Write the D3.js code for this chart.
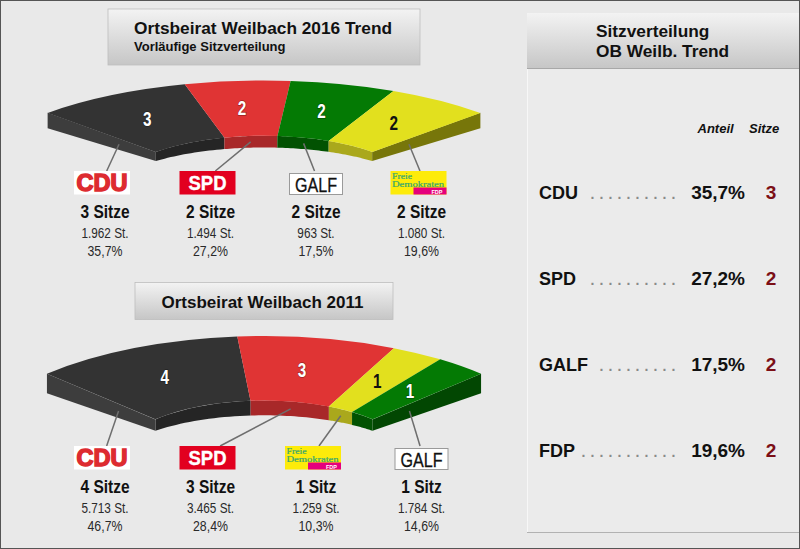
<!DOCTYPE html>
<html>
<head>
<meta charset="utf-8">
<script src="https://cdn.jsdelivr.net/npm/d3@7"></script>
<style>
  html, body { margin: 0; padding: 0; background: #e9e9e9; }
  svg { display: block; font-family: "Liberation Sans", Arial, sans-serif; }
</style>
</head>
<body>
<svg id="chart" width="800" height="549"></svg>
<script>
// Trend 2016
const partiesTrend = ["CDU", "SPD", "GALF", "FDP"];
const seatsTrend = [3, 2, 2, 2];
const votesTrend = [1962, 1494, 963, 1080];
const sharesTrend = [35.7, 27.2, 17.5, 19.6];

// Ergebnis 2011
const parties2011 = ["CDU", "SPD", "FDP", "GALF"];
const seats2011 = [4, 3, 1, 1];
const votes2011 = [5713, 3465, 1259, 1784];
const shares2011 = [46.7, 28.4, 10.3, 14.6];

// Tabelle rechts
const tableDots = [10, 10, 9, 11];

const partyColors = {
  CDU: { top: "#333333", wall: "#252525", cap: "#3d3d3d", label: "#fff" },
  SPD: { top: "#e03434", wall: "#a82829", cap: "#a82829", label: "#fff" },
  GALF: { top: "#047a04", wall: "#025202", cap: "#024702", label: "#fff" },
  FDP: { top: "#e2e01e", wall: "#aaa81c", cap: "#77760a", label: "#111" },
};

const deDE = d3.formatLocale({ decimal: ",", thousands: ".", grouping: [3], currency: ["", "€"] });
const fmtVotes = deDE.format(",");
const fmtShare = (v) => deDE.format(".1f")(v) + "%";

const svg = d3.select("#chart");
const defs = svg.append("defs");

const headGrad = defs.append("linearGradient")
  .attr("id", "head").attr("x1", 0).attr("y1", 0).attr("x2", 0).attr("y2", 1);
headGrad.append("stop").attr("offset", 0).attr("stop-color", "#f3f3f3");
headGrad.append("stop").attr("offset", 1).attr("stop-color", "#c6c6c6");

// Rahmen
svg.append("rect").attr("x", 0.5).attr("y", 0.5).attr("width", 799).attr("height", 548)
  .attr("fill", "#e9e9e9").attr("stroke", "#555");

function titleBox(x, y, w, h) {
  svg.append("rect").attr("x", x).attr("y", y).attr("width", w).attr("height", h)
    .attr("fill", "url(#head)").attr("stroke", "#bdbdbd").attr("stroke-width", 0.8);
}

function label(x, y, str, size, opts = {}) {
  return svg.append("text")
    .attr("x", x).attr("y", y)
    .attr("font-size", size)
    .attr("font-weight", opts.weight || "bold")
    .attr("font-style", opts.style || "normal")
    .attr("text-anchor", opts.anchor || "start")
    .attr("fill", opts.fill || "#111")
    .text(str);
}

// Schrift schmaler ziehen, wie im Original
function narrow(sel, k) {
  sel.each(function() {
    this.setAttribute("textLength", this.getComputedTextLength() * k);
    this.setAttribute("lengthAdjust", "spacingAndGlyphs");
  });
  return sel;
}

// Logos
function drawLogo(g, party, cx, top) {
  if (party === "CDU") {
    g.append("rect").attr("x", cx - 28).attr("y", top).attr("width", 56).attr("height", 23.5).attr("fill", "#fff");
    g.append("text").attr("x", cx).attr("y", top + 20).attr("text-anchor", "middle")
      .attr("font-size", 24).attr("font-weight", "bold").attr("fill", "#dd2b30")
      .attr("stroke", "#dd2b30").attr("stroke-width", 1.5)
      .attr("textLength", 51).attr("lengthAdjust", "spacingAndGlyphs").text("CDU");
  } else if (party === "SPD") {
    g.append("rect").attr("x", cx - 28).attr("y", top).attr("width", 56).attr("height", 23.5).attr("fill", "#e2001f");
    g.append("text").attr("x", cx).attr("y", top + 19).attr("text-anchor", "middle")
      .attr("font-size", 21).attr("font-weight", "bold").attr("fill", "#fff")
      .attr("stroke", "#fff").attr("stroke-width", 0.4)
      .attr("textLength", 38).attr("lengthAdjust", "spacingAndGlyphs").text("SPD");
  } else if (party === "GALF") {
    g.append("rect").attr("x", cx - 26.5).attr("y", top + 2.5).attr("width", 53).attr("height", 21)
      .attr("fill", "#fff").attr("stroke", "#9a9a9a");
    g.append("text").attr("x", cx).attr("y", top + 20.5).attr("text-anchor", "middle")
      .attr("font-size", 20).attr("fill", "#111").attr("stroke", "#111").attr("stroke-width", 0.3)
      .attr("textLength", 42).attr("lengthAdjust", "spacingAndGlyphs").text("GALF");
  } else {
    g.append("rect").attr("x", cx - 28).attr("y", top).attr("width", 56).attr("height", 23.5).attr("fill", "#fdeb0a");
    g.append("rect").attr("x", cx - 5).attr("y", top + 16.5).attr("width", 33).attr("height", 7).attr("fill", "#e5007d");
    g.append("text").attr("x", cx - 26.5).attr("y", top + 7.5)
      .attr("font-family", "Liberation Serif, serif").attr("font-size", 7.4).attr("fill", "#3aa86f")
      .attr("stroke", "#3aa86f").attr("stroke-width", 0.2)
      .attr("textLength", 20).attr("lengthAdjust", "spacingAndGlyphs").text("Freie");
    g.append("text").attr("x", cx - 26.5).attr("y", top + 15.8)
      .attr("font-family", "Liberation Serif, serif").attr("font-size", 7.4).attr("fill", "#3aa86f")
      .attr("stroke", "#3aa86f").attr("stroke-width", 0.2)
      .attr("textLength", 52).attr("lengthAdjust", "spacingAndGlyphs").text("Demokraten");
    g.append("text").attr("x", cx + 24).attr("y", top + 22.5).attr("text-anchor", "end")
      .attr("font-size", 5.5).attr("font-weight", "bold").attr("fill", "#fff").text("FDP");
  }
}

const logoShift = { CDU: -3, SPD: -3, GALF: 0, FDP: -3 };

// Halbring mit Perspektive: oben = Deckfläche, unten = Standfläche
function drawRing(parties, seats, votes, shares, geo) {
  const g = svg.append("g");
  const column = d3.scalePoint().domain(d3.range(parties.length)).range([105, 421.5]);

  const pie = d3.pie().sort(null).startAngle(-Math.PI / 4).endAngle(Math.PI / 4);
  const arcs = pie(seats);
  const arc = d3.arc().innerRadius(0.5).outerRadius(1);

  // Ellipsen-Skalen fuer Decke und Boden
  const xScale = d3.scaleLinear().domain([-1, 1]).range([geo.cx - geo.rx, geo.cx + geo.rx]);
  const topY = d3.scaleLinear().domain([-1, 1]).range([geo.cyTop - geo.ryTop, geo.cyTop + geo.ryTop]);
  const botY = d3.scaleLinear().domain([-1, 1]).range([geo.cyBot - geo.ryBot, geo.cyBot + geo.ryBot]);

  const onTop = (a, r) => [xScale(r * Math.sin(a)), topY(-r * Math.cos(a))];
  const onBot = (a, r) => [xScale(r * Math.sin(a)), botY(-r * Math.cos(a))];

  const line = d3.line();

  // Innenwand
  arcs.forEach((d, i) => {
    const steps = d3.range(0, 1.001, 0.05).map((t) => d.startAngle + t * (d.endAngle - d.startAngle));
    const pts = steps.map((a) => onTop(a, 0.5)).concat(steps.slice().reverse().map((a) => onBot(a, 0.5)));
    g.append("path").attr("d", line(pts) + "Z").attr("fill", partyColors[parties[i]].wall);
  });

  // Seitenflaechen
  const first = arcs[0], last = arcs[arcs.length - 1];
  g.append("path")
    .attr("d", line([onTop(first.startAngle, 1), onTop(first.startAngle, 0.5), onBot(first.startAngle, 0.5), onBot(first.startAngle, 1)]) + "Z")
    .attr("fill", partyColors[parties[0]].cap);
  g.append("path")
    .attr("d", line([onTop(last.endAngle, 1), onTop(last.endAngle, 0.5), onBot(last.endAngle, 0.5), onBot(last.endAngle, 1)]) + "Z")
    .attr("fill", partyColors[parties[parties.length - 1]].cap);

  // Deckflaeche
  const sx = geo.rx, sy = geo.ryTop;
  g.append("g")
    .attr("transform", `translate(${geo.cx},${geo.cyTop}) scale(${sx},${sy})`)
    .selectAll("path")
    .data(arcs)
    .join("path")
    .attr("d", arc)
    .attr("fill", (d, i) => partyColors[parties[i]].top);

  // Sitzzahl im Segment
  arcs.forEach((d, i) => {
    const [mx, my] = arc.centroid(d);
    const fill = partyColors[parties[i]].label;
    g.append("text")
      .attr("x", geo.cx + mx * sx - 2)
      .attr("y", geo.cyTop + my * sy + 7)
      .attr("text-anchor", "middle")
      .attr("font-size", 20)
      .attr("font-weight", "bold")
      .attr("fill", fill)
      .attr("stroke", fill === "#fff" ? "rgba(0,0,0,0.35)" : "none")
      .attr("stroke-width", 1.5)
      .style("paint-order", "stroke")
      .attr("textLength", 8.5)
      .attr("lengthAdjust", "spacingAndGlyphs")
      .text(seats[i]);
  });

  // Beschriftung und Linien
  arcs.forEach((d, i) => {
    const party = parties[i];
    const col = column(i);
    const mid = (d.startAngle + d.endAngle) / 2;
    let start;
    if (i === 0 || i === arcs.length - 1) {
      const a = i === 0 ? d.startAngle : d.endAngle;
      const s0 = onTop(a, 0.67), s1 = onBot(a, 0.67);
      start = [s0[0], (s0[1] + s1[1]) / 2];
    } else {
      const s0 = onTop(mid, 0.5), s1 = onBot(mid, 0.5);
      start = [s0[0], (s0[1] + s1[1]) / 2];
    }
    g.append("line")
      .attr("x1", start[0]).attr("y1", start[1])
      .attr("x2", col + 0.12 * (start[0] - col)).attr("y2", geo.logoTop)
      .attr("stroke", "#6e6e6e").attr("stroke-width", 1.5);

    drawLogo(g, party, col + logoShift[party], geo.logoTop);

    narrow(label(col, geo.logoTop + 47, seats[i] + (seats[i] === 1 ? " Sitz" : " Sitze"), 18, { anchor: "middle" }), 0.86);
    narrow(label(col, geo.logoTop + 67, fmtVotes(votes[i]) + " St.", 14, { anchor: "middle", weight: "normal", fill: "#2a2a2a" }), 0.84);
    narrow(label(col, geo.logoTop + 85, fmtShare(shares[i]), 14, { anchor: "middle", weight: "normal", fill: "#2a2a2a" }), 0.88);
  });
}

// Titel links
titleBox(108, 9, 312, 56);
label(134, 34, "Ortsbeirat Weilbach 2016 Trend", 17.3);
label(134, 51, "Vorläufige Sitzverteilung", 13);
titleBox(135, 282.5, 258, 37);
label(161.5, 307.5, "Ortsbeirat Weilbach 2011", 17);

drawRing(partiesTrend, seatsTrend, votesTrend, sharesTrend, {
  cx: 264, rx: 306, cyTop: 191, ryTop: 110.5, cyBot: 194, ryBot: 93, logoTop: 171,
});
drawRing(parties2011, seats2011, votes2011, shares2011, {
  cx: 264, rx: 307, cyTop: 465, ryTop: 129, cyBot: 468.3, ryBot: 106, logoTop: 446,
});

// Tabelle rechts
svg.append("rect").attr("x", 527).attr("y", 68).attr("width", 272).attr("height", 464).attr("fill", "#ebebeb");
svg.append("line").attr("x1", 527.5).attr("x2", 527.5).attr("y1", 13).attr("y2", 532).attr("stroke", "#f7f7f7");
svg.append("rect").attr("x", 527).attr("y", 13).attr("width", 272).attr("height", 55.5)
  .attr("fill", "url(#head)");
svg.append("line").attr("x1", 527).attr("x2", 799).attr("y1", 68.5).attr("y2", 68.5).attr("stroke", "#a8a8a8");
svg.append("line").attr("x1", 527).attr("x2", 799).attr("y1", 532.5).attr("y2", 532.5).attr("stroke", "#b2b2b2").attr("stroke-width", 1.2);
label(596, 37, "Sitzverteilung", 17.3);
label(596, 57, "OB Weilb. Trend", 17.3);
label(697.5, 133, "Anteil", 13, { style: "italic" });
label(749, 133, "Sitze", 13, { style: "italic" });

const rowY = d3.scaleLinear().domain([0, 3]).range([199, 457]);
partiesTrend.forEach((p, i) => {
  const y = rowY(i);
  label(539, y, p, 18);
  svg.append("text")
    .attr("x", 675.4).attr("y", y)
    .attr("text-anchor", "end")
    .attr("font-size", 14).attr("font-weight", "bold").attr("fill", "#8a8a8a")
    .attr("letter-spacing", 5.1)
    .attr("dx", 5.1)
    .text(".".repeat(tableDots[i]));
  label(745, y, fmtShare(sharesTrend[i]), 19, { anchor: "end" });
  label(771, y, seatsTrend[i], 19, { anchor: "middle", fill: "#7c0f16" });
});
</script>
</body>
</html>
